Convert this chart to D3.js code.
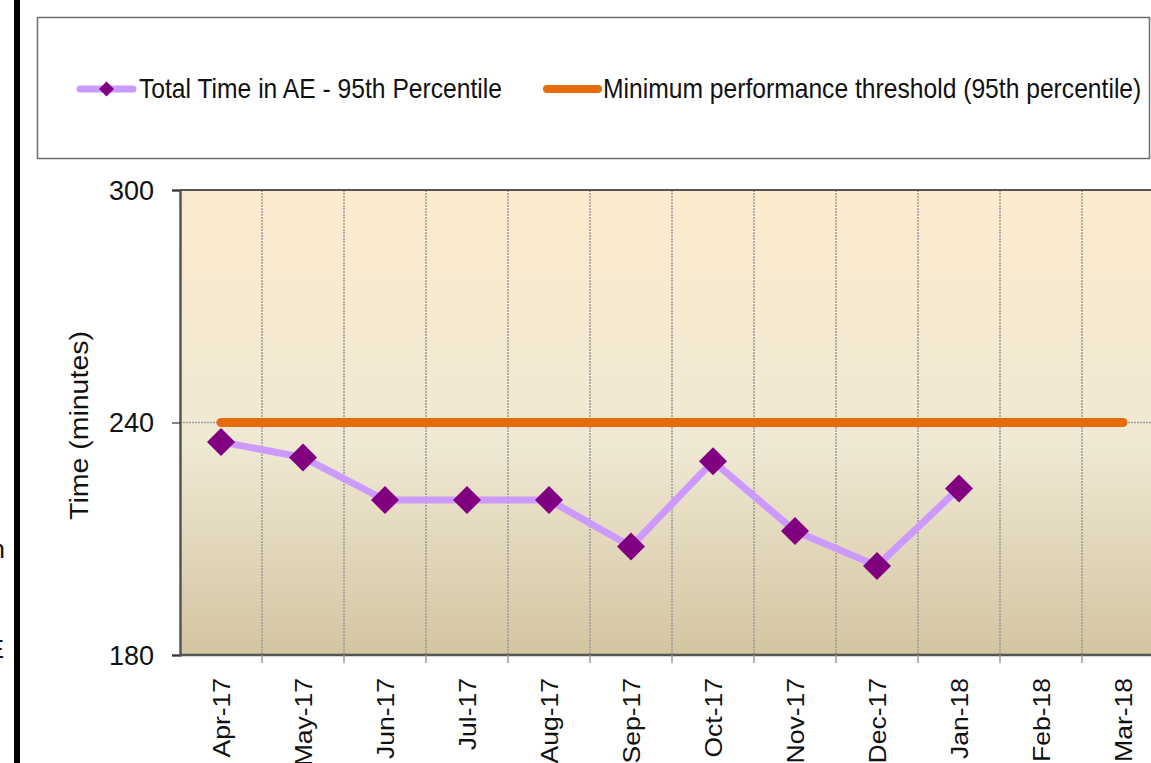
<!DOCTYPE html>
<html>
<head>
<meta charset="utf-8">
<script src="https://cdn.jsdelivr.net/npm/d3@7"></script>
<style>
  html, body { margin: 0; padding: 0; background: #fff; overflow: hidden; }
  text { font-family: "Liberation Sans", Arial, sans-serif; fill: #111; }
</style>
</head>
<body>
<div id="app"></div>
<script>
// data
const months = ["Apr-17", "May-17", "Jun-17", "Jul-17", "Aug-17", "Sep-17",
  "Oct-17", "Nov-17", "Dec-17", "Jan-18", "Feb-18", "Mar-18"];
const totalTime95 = [235, 231, 220, 220, 220, 208, 230, 212, 203, 223, null, null];
const threshold = [240, 240, 240, 240, 240, 240, 240, 240, 240, 240, 240, 240];
const yTicks = [180, 240, 300];
const seriesNames = ["Total Time in AE - 95th Percentile",
  "Minimum performance threshold (95th percentile)"];

const screen = { width: 1151, height: 763 };
const plot = { left: 180, top: 190, bottom: 655, step: 82 };
const colors = {
  line: "#CC99FF",
  marker: "#800080",
  threshold: "#E46C0A",
  grid: "#9a9a9a",
  axis: "#555"
};

const svg = d3.select("#app")
  .append("svg")
  .attr("width", screen.width)
  .attr("height", screen.height);

const defs = svg.append("defs");
const grad = defs.append("linearGradient")
  .attr("id", "bg")
  .attr("x1", 0).attr("y1", 0).attr("x2", 0).attr("y2", 1);
grad.append("stop").attr("offset", "0%").attr("stop-color", "#FDEBCE");
grad.append("stop").attr("offset", "55%").attr("stop-color", "#EFE8D3");
grad.append("stop").attr("offset", "100%").attr("stop-color", "#D4C5A1");

const x = d3.scaleBand()
  .domain(months)
  .range([plot.left, plot.left + plot.step * months.length])
  .paddingInner(0)
  .paddingOuter(0);
const cx = (m) => x(m) + x.bandwidth() / 2;

const y = d3.scaleLinear()
  .domain([180, 300])
  .range([plot.bottom, plot.top]);

// left black bar + cut-off text fragments
svg.append("rect")
  .attr("x", 14).attr("y", 0)
  .attr("width", 6).attr("height", screen.height)
  .attr("fill", "#000");
svg.append("text").attr("x", 5).attr("y", 558)
  .attr("text-anchor", "end").style("font-size", "26px").text("n");
svg.append("text").attr("x", 4).attr("y", 658)
  .attr("text-anchor", "end").style("font-size", "26px").text("E");

// plot background
svg.append("rect")
  .attr("x", plot.left).attr("y", plot.top)
  .attr("width", plot.step * months.length)
  .attr("height", plot.bottom - plot.top)
  .attr("fill", "url(#bg)");

// gridlines
svg.append("g")
  .selectAll("line")
  .data(months.slice(1))
  .join("line")
  .attr("x1", (d) => x(d)).attr("x2", (d) => x(d))
  .attr("y1", plot.top).attr("y2", plot.bottom)
  .attr("stroke", colors.grid)
  .attr("stroke-width", 1.5)
  .attr("stroke-dasharray", "2,1");

svg.append("g")
  .selectAll("line")
  .data(yTicks.slice(1, -1))
  .join("line")
  .attr("x1", plot.left).attr("x2", plot.left + plot.step * months.length)
  .attr("y1", (d) => y(d)).attr("y2", (d) => y(d))
  .attr("stroke", colors.grid)
  .attr("stroke-width", 1.5)
  .attr("stroke-dasharray", "2,1");

// top border
svg.append("line")
  .attr("x1", plot.left).attr("x2", screen.width)
  .attr("y1", plot.top).attr("y2", plot.top)
  .attr("stroke", colors.axis)
  .attr("stroke-width", 2);

// y axis
const yAxis = svg.append("g")
  .attr("transform", `translate(${plot.left},0)`)
  .call(d3.axisLeft(y).tickValues(yTicks).tickSize(8).tickPadding(18).tickFormat(d3.format("d")));
yAxis.select(".domain").attr("stroke", colors.axis).attr("stroke-width", 2.5);
yAxis.selectAll(".tick line").attr("stroke", "#333").attr("stroke-width", 1.2);
yAxis.selectAll(".tick text")
  .style("font-size", "27px")
  .style("font-family", "\"Liberation Sans\", Arial, sans-serif")
  .attr("fill", "#111")
  .attr("dy", "0.34em");

svg.append("text")
  .attr("transform", `translate(88,${(plot.top + plot.bottom) / 2 + 3}) scale(0.92,1) rotate(-90)`)
  .attr("text-anchor", "middle")
  .style("font-size", "28.5px")
  .text("Time (minutes)");

// x axis
const xAxis = svg.append("g")
  .attr("transform", `translate(0,${plot.bottom})`);
xAxis.append("line")
  .attr("x1", plot.left).attr("x2", screen.width)
  .attr("y1", 0).attr("y2", 0)
  .attr("stroke", colors.axis)
  .attr("stroke-width", 2.5);
xAxis.selectAll(".xtick")
  .data(months.slice(1))
  .join("line")
  .attr("x1", (d) => x(d)).attr("x2", (d) => x(d))
  .attr("y1", 0).attr("y2", 8)
  .attr("stroke", colors.grid)
  .attr("stroke-width", 1.5);
xAxis.selectAll(".xlabel")
  .data(months)
  .join("text")
  .attr("transform", (d) => `translate(${cx(d)},0) scale(0.92,1) rotate(-90)`)
  .attr("x", -23)
  .attr("dy", "0.35em")
  .attr("text-anchor", "end")
  .style("font-size", "26.5px")
  .text((d) => d);

// threshold line
const thresholdLine = d3.line()
  .x((d, i) => cx(months[i]))
  .y((d) => y(d));
svg.append("path")
  .datum(threshold)
  .attr("d", thresholdLine)
  .attr("fill", "none")
  .attr("stroke", colors.threshold)
  .attr("stroke-width", 9)
  .attr("stroke-linecap", "round");

// series line + markers
const seriesLine = d3.line()
  .defined((d) => d !== null)
  .x((d, i) => cx(months[i]))
  .y((d) => y(d));
svg.append("path")
  .datum(totalTime95)
  .attr("d", seriesLine)
  .attr("fill", "none")
  .attr("stroke", colors.line)
  .attr("stroke-width", 7)
  .attr("stroke-linejoin", "round");

const diamond = (r) => `M0,${-r}L${r},0L0,${r}L${-r},0Z`;
svg.append("g")
  .selectAll("path")
  .data(totalTime95.map((v, i) => ({ v, m: months[i] })).filter((d) => d.v !== null))
  .join("path")
  .attr("transform", (d) => `translate(${cx(d.m)},${y(d.v)})`)
  .attr("d", diamond(14))
  .attr("fill", colors.marker);

// legend
const legend = svg.append("g");
legend.append("rect")
  .attr("x", 37.5).attr("y", 17.5)
  .attr("width", 1112).attr("height", 141)
  .attr("fill", "#fff")
  .attr("stroke", "#6e6e6e")
  .attr("stroke-width", 1.5);

const legendItems = [
  { name: seriesNames[0], x0: 80, x1: 133, color: colors.line, width: 7, marker: true, tx: 139 },
  { name: seriesNames[1], x0: 547, x1: 598, color: colors.threshold, width: 8, marker: false, tx: 603 }
];
const legendY = 89;
const item = legend.selectAll(".item")
  .data(legendItems)
  .join("g");
item.append("line")
  .attr("x1", (d) => d.x0).attr("x2", (d) => d.x1)
  .attr("y1", legendY).attr("y2", legendY)
  .attr("stroke", (d) => d.color)
  .attr("stroke-width", (d) => d.width)
  .attr("stroke-linecap", "round");
item.filter((d) => d.marker)
  .append("path")
  .attr("transform", (d) => `translate(${(d.x0 + d.x1) / 2},${legendY})`)
  .attr("d", diamond(7.5))
  .attr("fill", colors.marker);
item.append("text")
  .attr("transform", (d) => `translate(${d.tx},${legendY + 9}) scale(0.913,1)`)
  .style("font-size", "27px")
  .text((d) => d.name);
</script>
</body>
</html>
